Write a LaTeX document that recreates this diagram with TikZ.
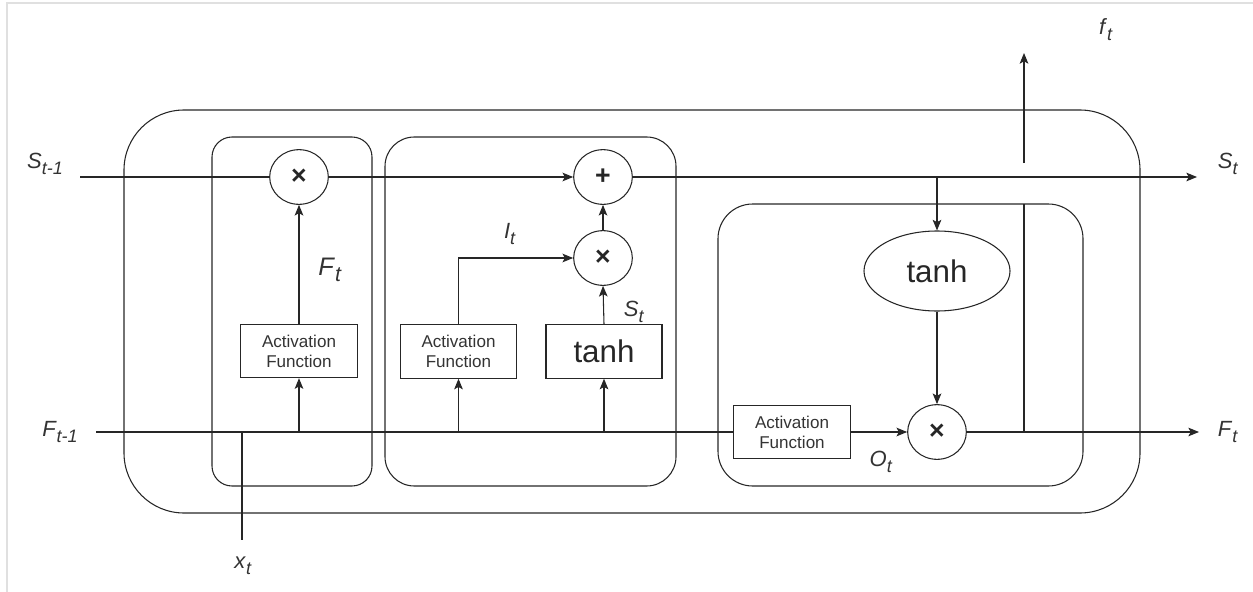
\documentclass[tikz,border=0pt]{standalone}
\usepackage{fontspec}
\setmainfont{Liberation Sans}
\usetikzlibrary{arrows.meta,shapes.geometric,calc}
\newcommand\lbl[2]{\textit{#1}\raisebox{-0.5ex}{\fontsize{13.5}{13.5}\selectfont\textit{#2}}}
\newcommand\lblbig[2]{\textit{#1}\raisebox{-0.5ex}{\fontsize{16}{16}\selectfont\textit{#2}}}
\begin{document}
\begin{tikzpicture}[x=0.75pt,y=-0.75pt,
  ln/.style={line width=0.8pt,draw=black!85},
  arr/.style={ln,-{Stealth[length=8pt,width=6.5pt,inset=1.8pt]}},
  opcirc/.style={ellipse,ln,minimum width=44pt,minimum height=41pt,inner sep=0pt,text=black!85,font=\fontsize{20}{20}\selectfont\bfseries},
  afbox/.style={rectangle,ln,minimum width=87.5pt,minimum height=40pt,inner sep=0pt,align=center,
     font=\fontsize{12.8}{15}\selectfont,text=black!80},
  tbox/.style={rectangle,ln,minimum width=87pt,minimum height=40pt,inner sep=0pt,font=\fontsize{23.5}{23.5}\selectfont,text=black!85},
  tell/.style={ellipse,ln,minimum width=109.5pt,minimum height=60pt,inner sep=0pt,font=\fontsize{23.5}{23.5}\selectfont,text=black!85},
  cell/.style={ln,rounded corners=#1},
  lab/.style={font=\fontsize{16.5}{16.5}\selectfont,text=black!80,inner sep=0pt}
]
\useasboundingbox (0,0) rectangle (1253,592);
% faint frame
\draw[black!12,line width=0.8pt] (7,592) -- (7,3) -- (1253,3);

% cell outlines
\draw[cell=45pt] (124,110) rectangle (1140,513);
\draw[cell=15pt] (212,137) rectangle (372,486);
\draw[cell=22pt] (385,137) rectangle (676,486);
\draw[cell=26pt] (718,204) rectangle (1083,486);

% operator nodes
\node[opcirc] (mul1) at (299,177) {×};
\node[opcirc] (plus) at (603,177) {+};
\node[opcirc] (mul2) at (603,258) {×};
\node[opcirc] (mul3) at (937,432) {×};

\node[afbox] (af1) at (299,351) {Activation\\Function};
\node[afbox] (af2) at (458.5,351.5) {Activation\\Function};
\node[tbox] (tb) at (604,351.5) {tanh};
\node[afbox] (af3) at (792,432) {Activation\\Function};
\node[tell] (te) at (937,271) {tanh};

% free ends
\coordinate (sin) at (80,177);
\coordinate (sout) at (1197,177);
\coordinate (fin) at (96,432);
\coordinate (fout) at (1199,432);
\coordinate (xtop) at (242,432);
\coordinate (xbot) at (242,540);
\coordinate (vtop) at (1024,204);
\coordinate (vbot) at (1024,432);
\coordinate (ftb) at (1024,163);
\coordinate (ftt) at (1024,53);

% state line
\draw[ln] (sin) -- (mul1.west);
\draw[arr] (mul1.east) -- (plus.west);
\draw[arr] (plus.east) -- (sout);
\draw[arr] (mul2.north) -- (plus.south);

% input line
\draw[ln] (fin) -- (af3.west);
\draw[arr] (af3.east) -- (mul3.west);
\draw[arr] (mul3.east) -- (fout);
\draw[ln] (xtop) -- (xbot);

% forget gate
\draw[arr] (af1.south |- fin) -- (af1.south);
\draw[arr] (af1.north) -- (mul1.south);

% input gate
\draw[arr] (af2.south |- fin) -- (af2.south);
\draw[arr] (af2.north) |- (mul2.west);
\draw[arr] (tb.south |- fin) -- (tb.south);
\draw[arr] (tb.north) -- (mul2.south);

% output gate
\draw[arr] (te.north |- sin) -- (te.north);
\draw[arr] (te.south) -- (mul3.north);
\draw[ln] (vbot) -- (vtop);
\draw[arr] (ftb) -- (ftt);

% labels
\node[lab] (lS1) at (45,164) {\lbl{S}{t-1}};
\node[lab] (lF1) at (60,432) {\lbl{F}{t-1}};
\node[lab] (lx) at (243,566) {\lbl{x}{t}};
\node[lab,font=\fontsize{19}{19}\selectfont] (lFt) at (330,270) {\lblbig{F}{t}};
\node[lab] (lIt) at (510,234) {\lbl{I}{t}};
\node[lab] (lSt) at (634,312) {\lbl{S}{t}};
\node[lab] (lOt) at (881,462) {\lbl{O}{t}};
\node[lab] (lft) at (1106,30) {\lbl{f}{t}};
\node[lab] (lSo) at (1228,164) {\lbl{S}{t}};
\node[lab] (lFo) at (1228,432) {\lbl{F}{t}};
\end{tikzpicture}
\end{document}
